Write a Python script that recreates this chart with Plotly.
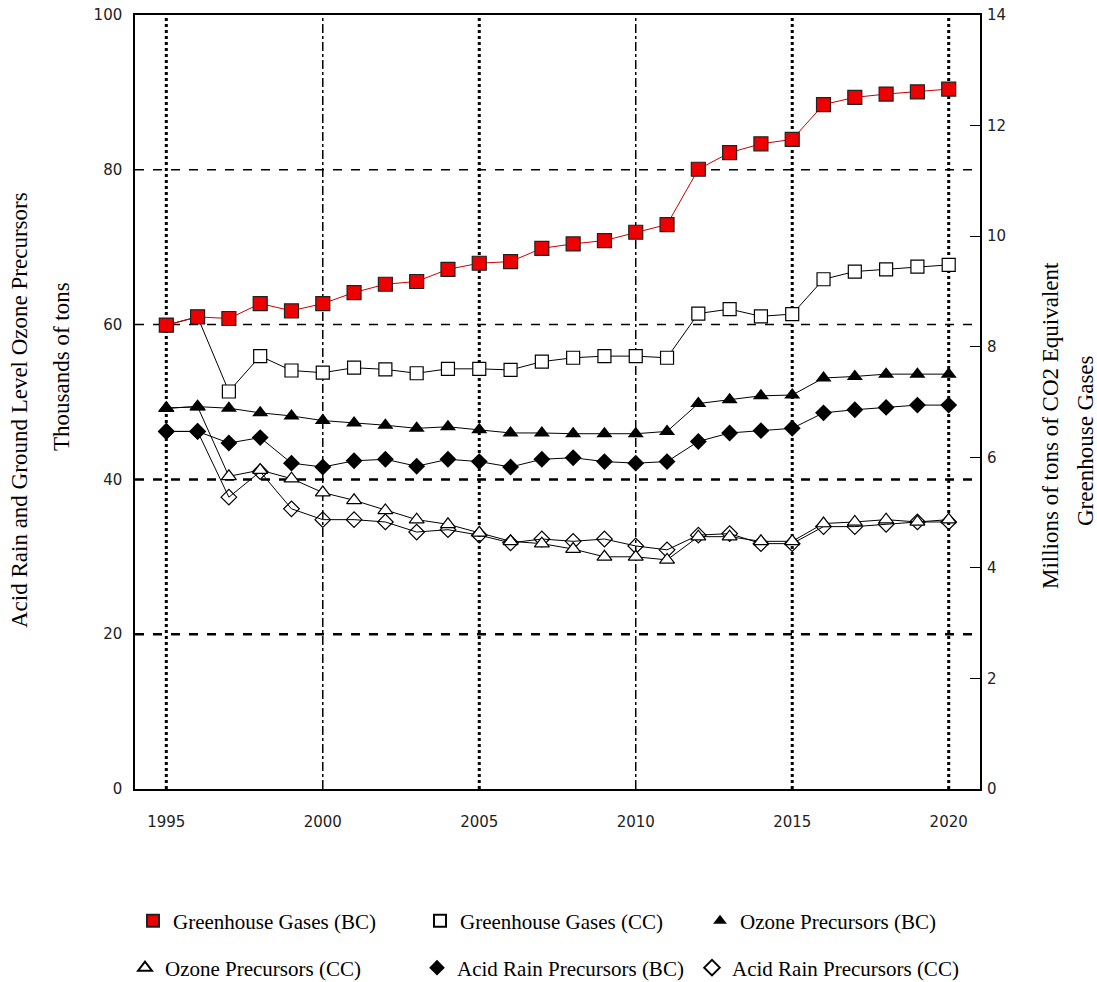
import plotly.graph_objects as go

years = list(range(1995, 2021))

# Greenhouse gases, millions of tons CO2 eq (right axis)
ghg_bc = [8.39, 8.54, 8.51, 8.78, 8.65, 8.78, 8.98, 9.13, 9.18, 9.40, 9.51, 9.54, 9.78,
          9.86, 9.92, 10.07, 10.21, 11.21, 11.51, 11.67, 11.75, 12.38, 12.51, 12.57, 12.61, 12.66]
ghg_cc = [8.39, 8.54, 7.19, 7.83, 7.57, 7.53, 7.62, 7.59, 7.52, 7.60, 7.60, 7.58, 7.73,
          7.80, 7.83, 7.83, 7.80, 8.60, 8.68, 8.55, 8.59, 9.22, 9.36, 9.40, 9.45, 9.48]

# Thousands of tons (left axis)
ozone_bc = [49.2, 49.4, 49.2, 48.6, 48.2, 47.6, 47.3, 47.0, 46.6, 46.8, 46.4, 46.0, 46.0,
            45.9, 45.9, 45.9, 46.2, 49.8, 50.3, 50.8, 50.9, 53.1, 53.3, 53.6, 53.6, 53.6]
ozone_cc = [49.2, 49.4, 40.4, 41.2, 40.1, 38.3, 37.3, 36.0, 34.8, 34.2, 33.1, 32.0, 31.7,
            31.0, 30.0, 30.0, 29.6, 32.6, 32.6, 32.0, 32.0, 34.3, 34.5, 34.8, 34.5, 34.8]
acid_bc = [46.2, 46.2, 44.7, 45.4, 42.1, 41.6, 42.4, 42.6, 41.7, 42.6, 42.3, 41.6, 42.6,
           42.8, 42.3, 42.1, 42.3, 44.9, 46.0, 46.3, 46.6, 48.6, 49.0, 49.3, 49.6, 49.6]
acid_cc = [46.2, 46.2, 37.7, 41.0, 36.2, 34.8, 34.8, 34.5, 33.2, 33.5, 32.8, 31.8, 32.3,
           32.0, 32.3, 31.4, 30.9, 32.8, 33.0, 31.7, 31.7, 33.9, 33.9, 34.2, 34.5, 34.5]

serif = "Liberation Serif, Times New Roman, serif"
sans = "DejaVu Sans, Verdana, sans-serif"

W, H = 1097, 982

m_ghg_bc = dict(symbol="square", size=14, color="#ee0000", line=dict(color="#222222", width=1.2))
m_ghg_cc = dict(symbol="square", size=13, color="white", line=dict(color="black", width=1.2))
m_oz_bc = dict(symbol="triangle-up", size=14, color="black")
m_oz_cc = dict(symbol="triangle-up", size=13, color="white", line=dict(color="black", width=1.2))
m_ac_bc = dict(symbol="diamond", size=13, color="black")
m_ac_cc = dict(symbol="diamond-open", size=12, color="black", line=dict(width=1.2))

fig = go.Figure()

# plotted back to front so the BC series sit on top where values coincide
fig.add_trace(go.Scatter(x=years, y=acid_cc, mode="lines+markers", showlegend=False,
                         line=dict(color="black", width=1), marker=m_ac_cc))
fig.add_trace(go.Scatter(x=years, y=ozone_cc, mode="lines+markers", showlegend=False,
                         line=dict(color="black", width=1), marker=m_oz_cc))
fig.add_trace(go.Scatter(x=years, y=acid_bc, mode="lines+markers", showlegend=False,
                         line=dict(color="black", width=1), marker=m_ac_bc))
fig.add_trace(go.Scatter(x=years, y=ozone_bc, mode="lines+markers", showlegend=False,
                         line=dict(color="black", width=1), marker=m_oz_bc))
fig.add_trace(go.Scatter(x=years, y=ghg_cc, mode="lines+markers", yaxis="y2", showlegend=False,
                         line=dict(color="black", width=1), marker=m_ghg_cc))
fig.add_trace(go.Scatter(x=years, y=ghg_bc, mode="lines+markers", yaxis="y2", showlegend=False,
                         line=dict(color="#cc0000", width=1), marker=m_ghg_bc))

# marker-only legend entries, one small legend each so they line up like the original
legend_items = [
    ("Greenhouse Gases (BC)", m_ghg_bc, 153, 921),
    ("Greenhouse Gases (CC)", m_ghg_cc, 440, 921),
    ("Ozone Precursors (BC)", m_oz_bc, 720, 921),
    ("Ozone Precursors (CC)", m_oz_cc, 145, 968),
    ("Acid Rain Precursors (BC)", m_ac_bc, 437, 968),
    ("Acid Rain Precursors (CC)", m_ac_cc, 712, 968),
]
legend_layout = {}
for i, (name, mk, lx, ly) in enumerate(legend_items):
    key = "legend" if i == 0 else f"legend{i + 1}"
    fig.add_trace(go.Scatter(x=[None], y=[None], mode="markers", name=name, marker=mk, legend=key))
    legend_layout[key] = dict(x=(lx - 20) / W, y=1 - ly / H, xref="container", yref="container",
                              xanchor="left", yanchor="middle", orientation="h",
                              font=dict(family=serif, size=21, color="black"),
                              itemsizing="constant", bgcolor="rgba(0,0,0,0)")

# grid lines, heavier on some years / levels as in the original
shapes = []
for yr, w, d in [(1995, 3, "dot"), (2000, 1.5, "dashdot"), (2005, 3, "dot"),
                 (2010, 1.5, "dashdot"), (2015, 3, "dot"), (2020, 3, "dot")]:
    shapes.append(dict(type="line", xref="x", yref="paper", x0=yr, x1=yr, y0=0, y1=1,
                       line=dict(color="black", width=w, dash=d), layer="below"))
for lv, w in [(20, 2.5), (40, 2.5), (60, 1.5), (80, 1.5)]:
    shapes.append(dict(type="line", xref="paper", yref="y", x0=0, x1=1, y0=lv, y1=lv,
                       line=dict(color="black", width=w, dash="dash"), layer="below"))

plot_l, plot_r, plot_t, plot_b = 135, 980, 15, 789

def px_x(px):
    return (px - plot_l) / (plot_r - plot_l)

def px_y(py):
    return (plot_b - py) / (plot_b - plot_t)

def title(text, x, y, size):
    return dict(text=text, x=px_x(x), y=px_y(y), xref="paper", yref="paper",
                xanchor="center", yanchor="middle", textangle=-90, showarrow=False,
                font=dict(family=serif, size=size, color="black"))

annotations = [
    title("Acid Rain and Ground Level Ozone Precursors", 19, 410, 23),
    title("Thousands of tons", 62, 367, 23),
    title("Millions of tons of CO2 Equivalent", 1050, 426, 23),
    title("Greenhouse Gases", 1085, 441, 23),
]

fig.update_layout(
    width=W, height=H,
    margin=dict(l=plot_l, r=W - plot_r, t=plot_t, b=H - plot_b),
    plot_bgcolor="white", paper_bgcolor="white",
    shapes=shapes, annotations=annotations,
    xaxis=dict(range=[1994, 2021], tickvals=[1995, 2000, 2005, 2010, 2015, 2020],
               showgrid=False, zeroline=False, showline=True, linecolor="black", linewidth=1.5,
               mirror=True, ticks="", ticklabelstandoff=18, automargin=False,
               tickfont=dict(family=sans, size=15, color="#222222")),
    yaxis=dict(range=[0, 100], dtick=20, showgrid=False, zeroline=False, showline=True,
               linecolor="black", linewidth=1.5, mirror=True, ticks="inside", ticklen=8,
               tickcolor="black", ticklabelstandoff=8, automargin=False,
               tickfont=dict(family=sans, size=15, color="#222222")),
    yaxis2=dict(range=[0, 14], dtick=2, overlaying="y", side="right", showgrid=False,
                zeroline=False, showline=False, ticks="inside", ticklen=10, tickcolor="black",
                ticklabelstandoff=6, automargin=False,
                tickfont=dict(family=sans, size=15, color="#222222")),
    **legend_layout,
)

# drop the browser's default body margin so the figure fills the window exactly
fig.write_html("out.html", config={"displayModeBar": False},
               post_script="document.body.style.margin = '0px';")
